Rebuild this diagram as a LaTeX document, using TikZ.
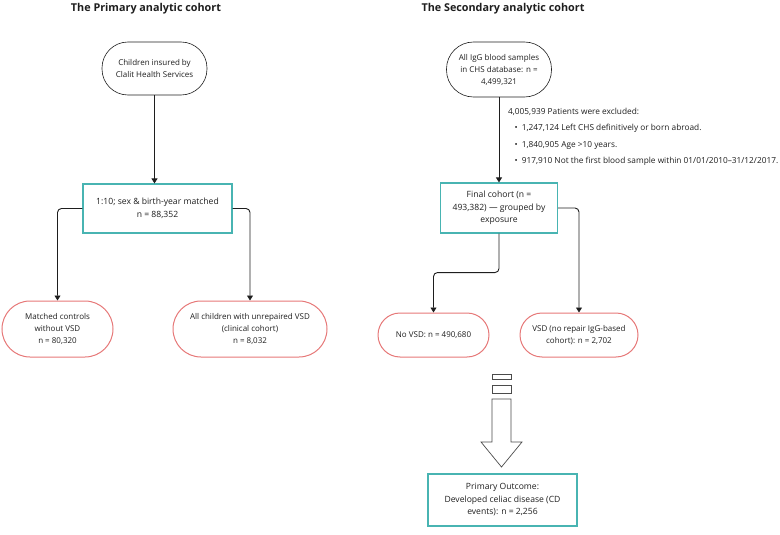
\documentclass[tikz,border=0pt]{standalone}
\usepackage{fontspec}
\setmainfont{Open Sans}
\usetikzlibrary{arrows.meta}
\definecolor{tealedge}{RGB}{72,180,178}
\definecolor{rededge}{RGB}{230,120,120}
\definecolor{ink}{RGB}{30,30,30}
\tikzset{
  every node/.style={font=\fontsize{8}{12}\selectfont, text=ink, align=center, inner sep=0pt},
  heading/.style={font=\fontsize{10.8}{14}\selectfont\bfseries},
  startbox/.style={draw=ink, line width=0.6pt, rounded corners=26pt},
  stepbox/.style={draw=tealedge, line width=1.1pt, font=\fontsize{8.6}{12.5}\selectfont},
  groupbox/.style={draw=rededge, line width=1pt},
  conn/.style={draw=ink, line width=0.9pt, rounded corners=4pt, -{Triangle[length=5pt,width=6pt]}},
  notetext/.style={anchor=west, align=left, font=\fontsize{8.3}{12}\selectfont},
}
\begin{document}
\begin{tikzpicture}[x=1pt, y=-1pt]
\useasboundingbox (0,0) rectangle (780,535);

% Titles
\node[heading] (t1) at (146,9) {The Primary analytic cohort};
\node[heading] (t2) at (503,9) {The Secondary analytic cohort};

% Primary cohort
\node[startbox, minimum width=105pt, minimum height=53pt] (c1) at (154.5,68.5)
  {Children insured by\\Clalit Health Services};
\node[stepbox, minimum width=149pt, minimum height=49pt] (b1) at (157.5,208.5)
  {1:10; sex \& birth-year matched\\n = 88,352};
\node[groupbox, rounded corners=28pt, minimum width=111pt, minimum height=56pt] (s1) at (57.5,329)
  {Matched controls\\without VSD\\n = 80,320};
\node[groupbox, rounded corners=28pt, minimum width=154pt, minimum height=56pt] (s2) at (250,329)
  {All children with unrepaired VSD\\(clinical cohort)\\n = 8,032};

\draw[conn] (c1.south) -- (c1.south |- b1.north);
\draw[conn] (b1.west) -| (s1.north);
\draw[conn] (b1.east) -| (s2.north);

% Secondary cohort
\node[startbox, rounded corners=27pt, minimum width=105pt, minimum height=55pt] (c2) at (499,69.5)
  {All IgG blood samples\\in CHS database: n =\\4,499,321};
\node[stepbox, minimum width=117pt, minimum height=50pt] (b2) at (499,208)
  {Final cohort (n =\\493,382) — grouped by\\exposure};
\node[groupbox, rounded corners=22pt, minimum width=111pt, minimum height=44pt] (s3) at (433.5,335)
  {No VSD: n = 490,680};
\node[groupbox, rounded corners=22pt, minimum width=118pt, minimum height=44pt] (s4) at (579,335)
  {VSD (no repair IgG-based\\cohort): n = 2,702};

\draw[conn] (c2.south) -- (c2.south |- b2.north);
\draw[conn] (b2.south) -- ++(0,39) -| (s3.north);
\draw[conn] (b2.east) -| (s4.north);

% Exclusions
\node[notetext] (ex0) at (508,112) {4,005,939 Patients were excluded:};
\node[notetext] (ex1) at (514.5,128) {\textbullet\hspace{4pt}1,247,124 Left CHS definitively or born abroad.};
\node[notetext] (ex2) at (514.5,145) {\textbullet\hspace{4pt}1,840,905 Age >10 years.};
\node[notetext] (ex3) at (514.5,161) {\textbullet\hspace{4pt}917,910 Not the first blood sample within 01/01/2010–31/12/2017.};

% Outcome
\node[stepbox, minimum width=149pt, minimum height=52pt] (b3) at (502.5,500)
  {Primary Outcome:\\Developed celiac disease (CD\\events): n = 2,256};

% Hollow block arrow leading to the outcome
\begin{scope}[draw=ink!80, line width=0.7pt]
  \draw (492,374) rectangle (511,379);
  \draw (492,385) rectangle (511,393);
  \draw[line join=miter] (492,399) -- (511,399) -- (511,442) -- (522,442)
    -- (501.5,467) -- (481,442) -- (492,442) -- cycle;
\end{scope}
\end{tikzpicture}
\end{document}
